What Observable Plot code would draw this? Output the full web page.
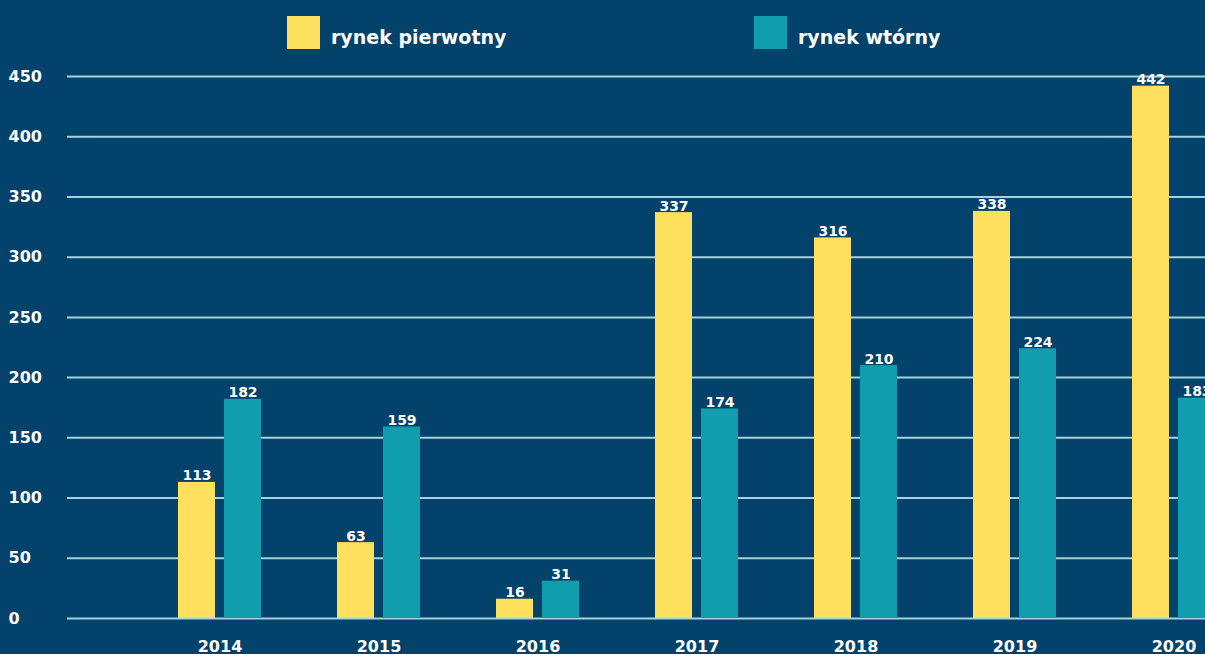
<!DOCTYPE html>
<html><head><meta charset="utf-8">
<script src="https://cdn.jsdelivr.net/npm/d3@7"></script>
<script src="https://cdn.jsdelivr.net/npm/@observablehq/plot@0.6"></script>
<style>
html,body{margin:0;padding:0;background:#03426a;overflow:hidden;width:1205px;height:654px;}
#legend{position:relative;height:60px;font-family:"DejaVu Sans",sans-serif;font-weight:bold;font-size:19px;color:#fff;}
.sw{position:absolute;top:16px;width:33px;height:33px;}
.lt{position:absolute;top:28px;line-height:19px;white-space:nowrap;}
#chart svg{display:block;}
</style></head><body>
<div id="legend"></div>
<div id="chart"></div>
<script>
const years = ["2014", "2015", "2016", "2017", "2018", "2019", "2020"];
const pierwotny = [113, 63, 16, 337, 316, 338, 442];
const wtorny = [182, 159, 31, 174, 210, 224, 183];
const seriesNames = ["rynek pierwotny", "rynek wtórny"];
const seriesColors = ["#fedf5e", "#109dad"];
const yTicks = [0, 50, 100, 150, 200, 250, 300, 350, 400, 450];

// legend
const legend = document.getElementById("legend");
const legendX = [287, 754];
seriesNames.forEach((name, i) => {
  const sw = document.createElement("div");
  sw.className = "sw"; sw.style.left = legendX[i] + "px"; sw.style.background = seriesColors[i];
  const t = document.createElement("div");
  t.className = "lt"; t.style.left = (legendX[i] + 44) + "px"; t.textContent = name;
  legend.appendChild(sw); legend.appendChild(t);
});

const prim = years.map((y, i) => ({year: y, series: seriesNames[0], value: pierwotny[i]}));
const sec = years.map((y, i) => ({year: y, series: seriesNames[1], value: wtorny[i]}));

const labelStyle = {fill: "#fff", fontSize: 14, fontWeight: "bold", lineAnchor: "bottom", dy: -2};

const chart = Plot.plot({
  width: 1260, height: 594,
  marginLeft: 67, marginRight: 7, marginTop: 16, marginBottom: 36,
  style: {background: "transparent", maxWidth: "none", fontFamily: "DejaVu Sans, sans-serif", color: "#fff"},
  x: {type: "band", domain: years, range: [140, 1253], padding: 0, label: null},
  y: {domain: [0, 450], label: null},
  color: {domain: seriesNames, range: seriesColors},
  marks: [
    Plot.gridY(yTicks, {stroke: "#a6d2dc", strokeOpacity: 1, strokeWidth: 2}),
    Plot.barY(prim, {x: "year", y: "value", fill: "series", insetLeft: 38, insetRight: 84}),
    Plot.barY(sec, {x: "year", y: "value", fill: "series", insetLeft: 84, insetRight: 38}),
    Plot.text(prim, {x: "year", y: "value", text: d => String(d.value), dx: -23, ...labelStyle}),
    Plot.text(sec, {x: "year", y: "value", text: d => String(d.value), dx: 23, ...labelStyle}),
    Plot.axisY(yTicks, {tickSize: 0, tickPadding: 0, textAnchor: "start", dx: -59, fontSize: 16, fontWeight: "bold", fill: "#fff", label: null}),
    Plot.axisX({tickSize: 0, tickPadding: 22, fontSize: 16, fontWeight: "bold", fill: "#fff", label: null})
  ]
});
document.getElementById("chart").appendChild(chart);
</script>
</body></html>
